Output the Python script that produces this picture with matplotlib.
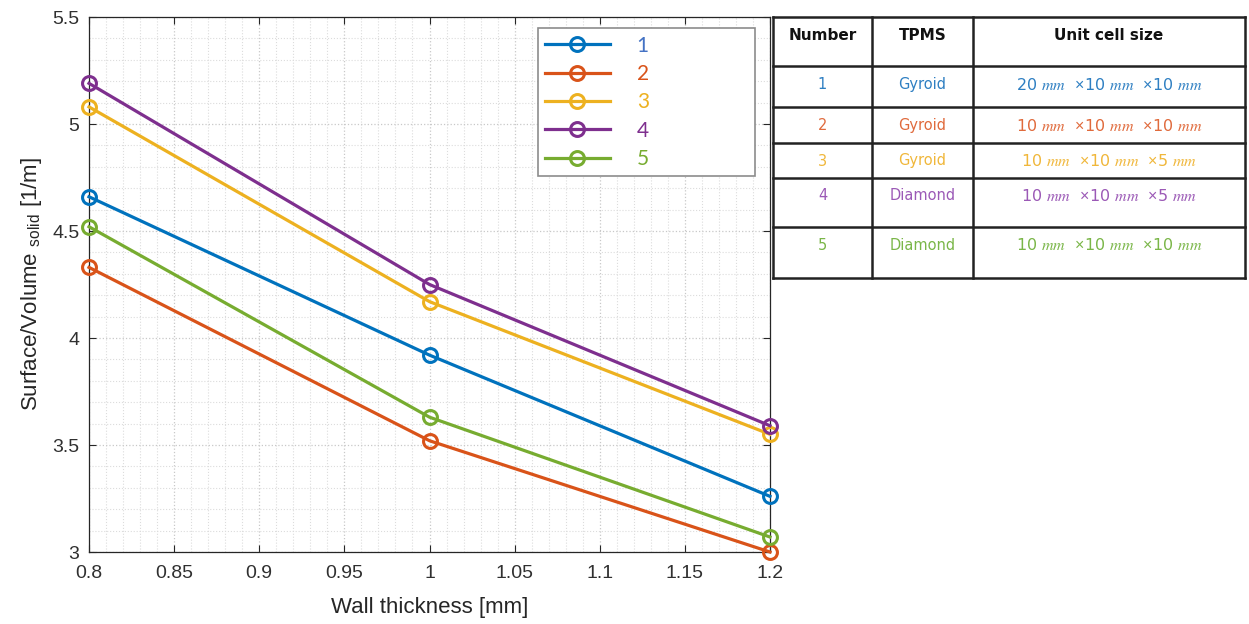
import numpy as np
import matplotlib
matplotlib.use('Agg')
import matplotlib.pyplot as plt
from matplotlib.ticker import MultipleLocator

plt.rcParams['font.family'] = ['Liberation Sans', 'DejaVu Sans']
plt.rcParams['mathtext.fontset'] = 'custom'
plt.rcParams['mathtext.rm'] = 'Liberation Sans'
plt.rcParams['mathtext.it'] = 'STIXGeneral:italic'
plt.rcParams['mathtext.sf'] = 'Liberation Sans'

# data
wall_thickness = [0.8, 1.0, 1.2]
series_labels = ['1', '2', '3', '4', '5']
sv_1 = [4.66, 3.92, 3.26]
sv_2 = [4.33, 3.52, 3.00]
sv_3 = [5.08, 4.17, 3.55]
sv_4 = [5.19, 4.25, 3.59]
sv_5 = [4.52, 3.63, 3.07]

x_ticks = [0.8, 0.85, 0.9, 0.95, 1.0, 1.05, 1.1, 1.15, 1.2]
x_ticklabels = ['0.8', '0.85', '0.9', '0.95', '1', '1.05', '1.1', '1.15', '1.2']
y_ticks = [3, 3.5, 4, 4.5, 5, 5.5]
y_ticklabels = ['3', '3.5', '4', '4.5', '5', '5.5']

# table contents
table_header = ['Number', 'TPMS', 'Unit cell size']
table_number = ['1', '2', '3', '4', '5']
table_tpms = ['Gyroid', 'Gyroid', 'Gyroid', 'Diamond', 'Diamond']
table_size = [r'20 $mm$  $\times$10 $mm$  $\times$10 $mm$',
              r'10 $mm$  $\times$10 $mm$  $\times$10 $mm$',
              r'10 $mm$  $\times$10 $mm$  $\times$5 $mm$',
              r'10 $mm$  $\times$10 $mm$  $\times$5 $mm$',
              r'10 $mm$  $\times$10 $mm$  $\times$10 $mm$']

colors = ['#0072BD', '#D95319', '#EDB120', '#7E2F8E', '#77AC30']
legend_text_colors = ['#4472C4', '#D95319', '#EDB120', '#7E2F8E', '#77AC30']
table_colors = ['#2E7FC2', '#E06A3C', '#F0B73A', '#9B59B6', '#7AB648']

W, H = 1249, 624
fig = plt.figure(figsize=(W / 100, H / 100), dpi=100)
ax = fig.add_axes([89 / W, 1 - 552 / H, (770 - 89) / W, (552 - 17) / H])

all_series = [sv_1, sv_2, sv_3, sv_4, sv_5]
for vals, c, lab in zip(all_series, colors, series_labels):
    ax.plot(wall_thickness, vals, color=c, lw=2.3, marker='o', ms=10,
            mfc='none', mew=2.2, label=lab, clip_on=False, zorder=3)

ax.set_xlim(0.8, 1.2)
ax.set_ylim(3, 5.5)
ax.set_xticks(x_ticks)
ax.set_xticklabels(x_ticklabels)
ax.set_yticks(y_ticks)
ax.set_yticklabels(y_ticklabels)
ax.xaxis.set_minor_locator(MultipleLocator(0.01))
ax.yaxis.set_minor_locator(MultipleLocator(0.1))

ax.grid(which='major', color='#c8c8c8', ls=':', lw=0.9)
ax.grid(which='minor', color='#dcdcdc', ls=':', lw=0.8)
ax.tick_params(which='major', direction='in', length=5, top=True, right=True,
               labelsize=14, colors='#262626', width=0.8)
ax.tick_params(axis='x', which='major', pad=9)
ax.tick_params(axis='y', which='major', pad=7)
ax.tick_params(which='minor', length=0)
for sp in ax.spines.values():
    sp.set_color('#262626')
    sp.set_linewidth(0.9)
for lbl in ax.get_xticklabels() + ax.get_yticklabels():
    lbl.set_color('#303030')

ax.set_xlabel('Wall thickness [mm]', fontsize=16, color='#262626', labelpad=11)
ax.set_ylabel(r'Surface/Volume $_{\mathrm{solid}}$ [1/m]', fontsize=16,
              color='#262626', labelpad=6)

leg = ax.legend(loc='upper left', bbox_to_anchor=(0.659, 0.71, 0.319, 0.269),
                mode='expand', fancybox=False, edgecolor='#8c8c8c',
                framealpha=1, handlelength=3.1, handletextpad=1.3,
                labelspacing=0.4, borderpad=0.35, borderaxespad=0,
                prop={'family': 'Lato', 'size': 15})
leg.get_frame().set_linewidth(1.2)
for txt, c in zip(leg.get_texts(), legend_text_colors):
    txt.set_color(c)

# table on the right
tax = fig.add_axes([773 / W, 1 - 278 / H, (1245 - 773) / W, (278 - 17) / H])
tax.set_xlim(773, 1245)
tax.set_ylim(278, 17)
tax.axis('off')
col_edges = [773, 872, 973, 1245]
row_edges = [17, 66, 107, 143, 178, 227, 278]
for x in col_edges:
    tax.plot([x, x], [row_edges[0], row_edges[-1]], color='#222222', lw=1.8,
             clip_on=False)
for y in row_edges:
    tax.plot([col_edges[0], col_edges[-1]], [y, y], color='#222222', lw=1.8,
             clip_on=False)

col_centres = [(col_edges[i] + col_edges[i + 1]) / 2 for i in range(3)]
for xc, h in zip(col_centres, table_header):
    tax.text(xc, 36, h, ha='center', va='center', fontsize=11,
             fontweight='bold', family='DejaVu Sans', color='#111111')
row_text_y = [85, 126, 161, 196, 245]
for i in range(5):
    y = row_text_y[i]
    c = table_colors[i]
    tax.text(col_centres[0], y, table_number[i], ha='center', va='center',
             fontsize=10.5, family='DejaVu Sans', color=c)
    tax.text(col_centres[1], y, table_tpms[i], ha='center', va='center',
             fontsize=10.5, family='DejaVu Sans', color=c)
    tax.text(col_centres[2], y, table_size[i], ha='center', va='center',
             fontsize=11.5, family='DejaVu Sans', color=c)

fig.savefig('out.png', dpi=100)
